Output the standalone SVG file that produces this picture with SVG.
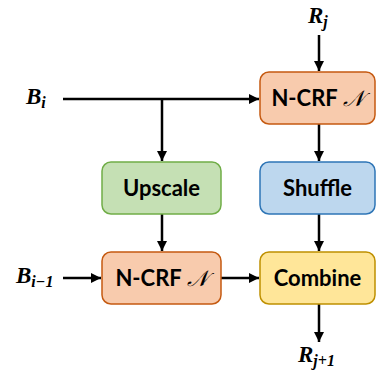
<svg xmlns="http://www.w3.org/2000/svg" width="376" height="376" viewBox="0 0 376 376">
<defs>
<marker id="ah" viewBox="0 0 10 10" refX="10" refY="5" markerWidth="4" markerHeight="4" orient="auto" markerUnits="strokeWidth">
<path d="M0,0 L10,5 L0,10 z" fill="#000"/>
</marker>
<style>
.box{stroke-width:1.5}
.ncrf{fill:#F8CBAD;stroke:#C55A11}
.up{fill:#C5E0B4;stroke:#70AD47}
.sh{fill:#BDD7EE;stroke:#2E75B6}
.cb{fill:#FFE699;stroke:#BF9000}
.lbl{font-family:Lato,"Open Sans",sans-serif;font-weight:bold;font-size:22px;fill:#000;text-anchor:middle}
.var{font-family:"Liberation Serif",serif;font-weight:bold;font-style:italic;font-size:23px;fill:#000}
.sub{font-size:16px}
.conn line{stroke:#000;stroke-width:2.5;fill:none}
</style>
</defs>
<g class="conn">
<line x1="319" y1="35" x2="319" y2="71" marker-end="url(#ah)"/>
<line x1="63" y1="99" x2="259" y2="99" marker-end="url(#ah)"/>
<line x1="162" y1="99" x2="162" y2="161" marker-end="url(#ah)"/>
<line x1="319" y1="124" x2="319" y2="161" marker-end="url(#ah)"/>
<line x1="162" y1="214" x2="162" y2="251" marker-end="url(#ah)"/>
<line x1="319" y1="214" x2="319" y2="251" marker-end="url(#ah)"/>
<line x1="63" y1="278" x2="101" y2="278" marker-end="url(#ah)"/>
<line x1="221" y1="278" x2="259" y2="278" marker-end="url(#ah)"/>
<line x1="319" y1="304" x2="319" y2="342" marker-end="url(#ah)"/>
</g>
<g id="ncrf-top">
<rect class="box ncrf" x="260" y="72" width="115" height="52" rx="9"/>
<text class="lbl" x="317.5" y="106">N-CRF <tspan font-family="'DejaVu Serif',serif" font-style="italic" font-weight="normal">𝒩</tspan></text>
</g>
<g id="upscale">
<rect class="box up" x="102" y="162" width="119" height="52" rx="9"/>
<text class="lbl" x="161.5" y="196">Upscale</text>
</g>
<g id="shuffle">
<rect class="box sh" x="260" y="162" width="115" height="52" rx="9"/>
<text class="lbl" x="317.5" y="196">Shuffle</text>
</g>
<g id="ncrf-bottom">
<rect class="box ncrf" x="102" y="252" width="119" height="52" rx="9"/>
<text class="lbl" x="161.5" y="286">N-CRF <tspan font-family="'DejaVu Serif',serif" font-style="italic" font-weight="normal">𝒩</tspan></text>
</g>
<g id="combine">
<rect class="box cb" x="260" y="252" width="115" height="52" rx="9"/>
<text class="lbl" x="317.5" y="286">Combine</text>
</g>
<g id="labels">
<text class="var" x="308" y="23">R<tspan class="sub" dy="4">j</tspan></text>
<text class="var" x="26" y="104">B<tspan class="sub" dy="4">i</tspan></text>
<text class="var" x="16" y="283">B<tspan class="sub" dy="4">i−1</tspan></text>
<text class="var" x="298" y="362">R<tspan class="sub" dy="4">j+1</tspan></text>
</g>
</svg>
